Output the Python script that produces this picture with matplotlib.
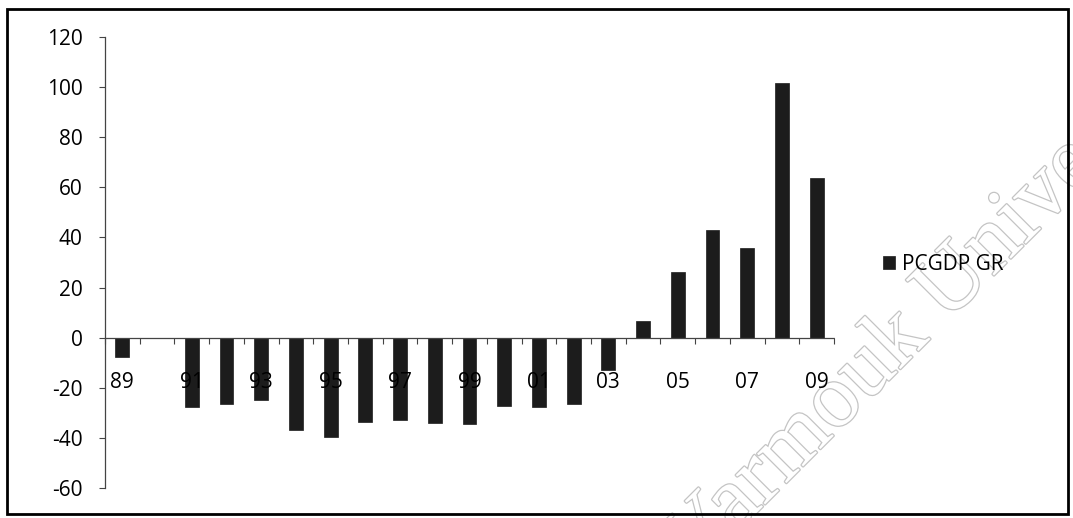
import matplotlib
matplotlib.use("Agg")
import matplotlib.pyplot as plt
import matplotlib.patheffects as pe
from matplotlib.patches import Rectangle
import numpy as np

# Per-capita GDP growth rate by year (1989-2009); 1990 has no bar
years = ["89", "90", "91", "92", "93", "94", "95", "96", "97", "98", "99",
         "00", "01", "02", "03", "04", "05", "06", "07", "08", "09"]
pcgdp_gr = [-7.8, 0.0, -27.7, -26.4, -25.0, -37.0, -39.8, -33.5, -32.8, -33.9, -34.4,
            -27.2, -27.5, -26.4, -12.9, 6.6, 26.1, 42.9, 35.7, 101.8, 63.8]
series_name = "PCGDP GR"
y_ticks = [-60, -40, -20, 0, 20, 40, 60, 80, 100, 120]

plt.rcParams["font.family"] = ["Open Sans", "DejaVu Sans"]
FS = 15

fig = plt.figure(figsize=(10.73, 5.18), dpi=100)
fig.patch.set_facecolor("white")

# watermark behind the chart
fig.text(940 / 1073, 1 - 298 / 518, "Yarmouk University",
         family="Liberation Serif", fontsize=65, rotation=45,
         ha="center", va="center", rotation_mode="anchor",
         color="white", zorder=-1,
         path_effects=[pe.withStroke(linewidth=1.8, foreground="#c4c4c4")])

ax = fig.add_axes([105 / 1073, 30 / 518, (834 - 105) / 1073, (488 - 37) / 518])
ax.set_facecolor("none")

x = np.arange(len(years))
ax.bar(x, pcgdp_gr, width=0.4, color="#1c1c1c", edgecolor="#1c1c1c",
       linewidth=0.5, label=series_name, zorder=1)

ax.set_xlim(-0.5, len(years) - 0.5)
ax.set_ylim(-60, 120)
ax.set_yticks(y_ticks)
ax.set_yticklabels([str(v) for v in y_ticks])

# labels on every other year, tick marks between categories
ax.set_xticks(x[::2])
ax.set_xticklabels(years[::2])
ax.set_xticks(np.arange(len(years) + 1) - 0.5, minor=True)
ax.tick_params(axis="x", which="major", length=0, pad=25, labelsize=FS)
ax.tick_params(axis="x", which="minor", length=4, width=0.8, direction="out",
               color="#444444")
ax.tick_params(axis="y", length=4, width=0.8, pad=12, color="#444444",
               labelsize=FS)

for side in ("top", "right"):
    ax.spines[side].set_visible(False)
ax.spines["bottom"].set_position(("data", 0))
for side in ("left", "bottom"):
    ax.spines[side].set_color("#444444")
    ax.spines[side].set_linewidth(0.9)
    ax.spines[side].set_linestyle((0, (1, 1)))

fig.legend(loc="center left", bbox_to_anchor=(864 / 1073, 1 - 264 / 518),
           frameon=False, fontsize=FS, handlelength=0.6, handleheight=0.6,
           handletextpad=0.3)

# outer chart border
fig.add_artist(Rectangle((7 / 1073, 1 - 514 / 518), (1068 - 7) / 1073, (514 - 9) / 518,
                         transform=fig.transFigure, fill=False,
                         edgecolor="black", linewidth=2.0))

fig.savefig("out.png", dpi=100)
